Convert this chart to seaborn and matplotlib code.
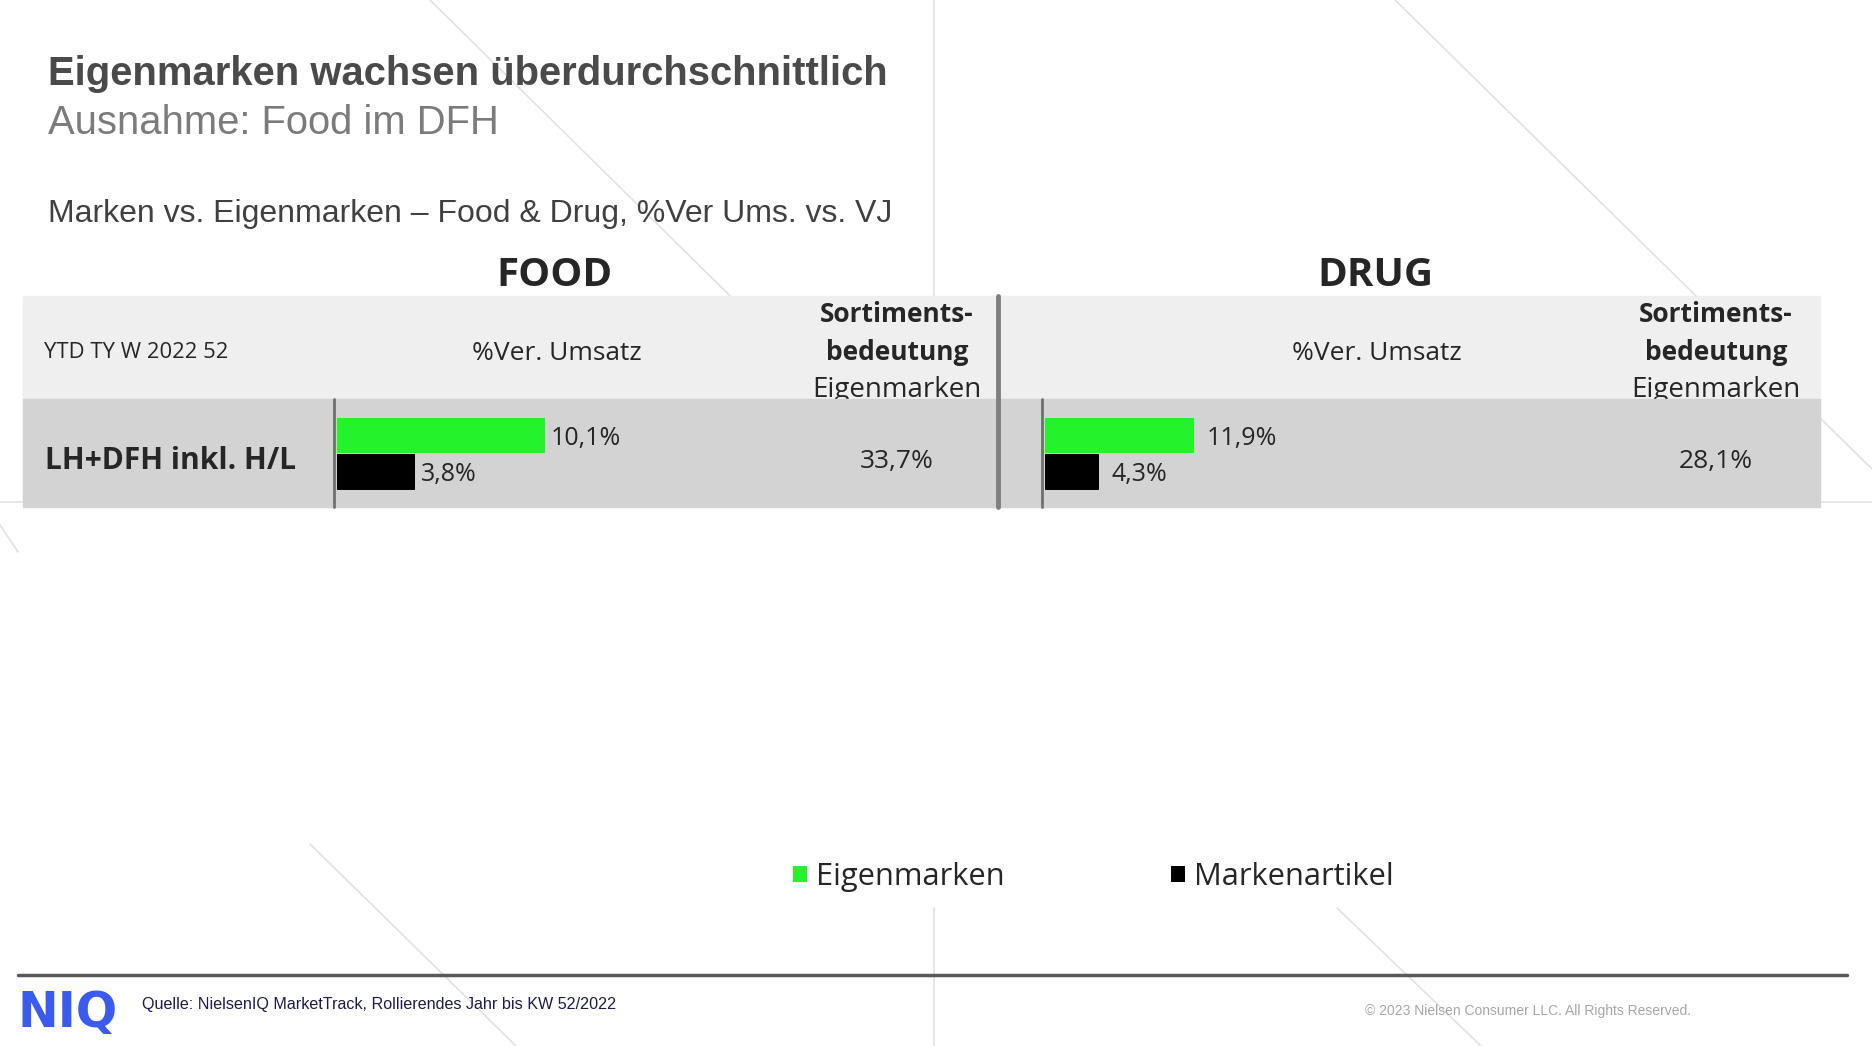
import seaborn as sns
import pandas as pd
import matplotlib.pyplot as plt
from matplotlib.patches import Rectangle
from matplotlib.lines import Line2D

sns.set_style('white')
plt.rcParams['font.family'] = ['Open Sans', 'DejaVu Sans']

# Werte aus der Folie
arten = ['Eigenmarken', 'Markenartikel']
food_umsatz = [10.1, 3.8]
drug_umsatz = [11.9, 4.3]
bereiche = ['FOOD', 'DRUG']
sortiment_em = [33.7, 28.1]
zeile = 'LH+DFH inkl. H/L'
zeitraum = 'YTD TY W 2022 52'
farben = {'Eigenmarken': '#24f22b', 'Markenartikel': '#000000'}

W, H = 1872, 1046
fig = plt.figure(figsize=(W / 100, H / 100), dpi=100)


def fx(x):
    return x / W


def fy(y):
    return 1 - y / H


def txt(x, y, s, **kw):
    return fig.text(fx(x), fy(y), s, **kw)


def rect(x0, y0, x1, y1, **kw):
    fig.add_artist(Rectangle((fx(x0), fy(y1)), (x1 - x0) / W, (y1 - y0) / H,
                             transform=fig.transFigure, **kw))


def line(x0, y0, x1, y1, **kw):
    fig.add_artist(Line2D([fx(x0), fx(x1)], [fy(y0), fy(y1)],
                          transform=fig.transFigure, **kw))


# dekorative Hintergrundlinien der Folie
deko = dict(color='#e2e2e2', lw=1.2, zorder=0.5)
line(430, 0, 790, 355, **deko)
line(934, 0, 934, 300, **deko)
line(934, 908, 934, 1046, **deko)
line(1395, 0, 1872, 469, **deko)
line(0, 502, 1872, 502, **deko)
line(0, 525, 18, 552, **deko)
line(310, 844, 516, 1046, **deko)
line(1337, 908, 1481, 1046, **deko)

# Titel
arial = 'Liberation Sans'
txt(48, 85, 'Eigenmarken wachsen überdurchschnittlich', family=arial,
    fontsize=28.8, fontweight='bold', color='#4a4a4a')
txt(48, 134, 'Ausnahme: Food im DFH', family=arial, fontsize=28.8, color='#7b7b7b')
txt(48, 222, 'Marken vs. Eigenmarken – Food & Drug, %Ver Ums. vs. VJ',
    family=arial, fontsize=23, color='#404040')

# Tabelle
rect(23, 296, 1820, 399, color='#efefef', zorder=1)
rect(23, 399, 1820, 507, color='#d3d3d3', zorder=2.5)
line(998, 296, 998, 507, color='#7f7f7f', lw=3.5, zorder=4)
line(334, 399, 334, 507, color='#707070', lw=2, zorder=4)
line(1042, 399, 1042, 507, color='#707070', lw=2, zorder=4)

txt(44, 353, zeitraum, fontsize=15.8, va='center', zorder=2)
txt(45, 461, zeile, fontsize=21.5, fontweight='bold', va='center', zorder=3)

mitte_umsatz = [557, 1377]
mitte_sort = [897, 1716]
for i, bereich in enumerate(bereiche):
    txt(mitte_umsatz[i] - 2, 276, bereich, fontsize=29, fontweight='bold',
        ha='center', va='center', zorder=3)
    txt(mitte_umsatz[i], 353, '%Ver. Umsatz', fontsize=19, ha='center', va='center', zorder=2)
    txt(mitte_sort[i], 314, 'Sortiments-', fontsize=19, fontweight='bold',
        ha='center', va='center', zorder=2)
    txt(mitte_sort[i], 353, 'bedeutung', fontsize=19, fontweight='bold',
        ha='center', va='center', zorder=2)
    txt(mitte_sort[i], 390, 'Eigenmarken', fontsize=20, ha='center', va='center', zorder=2)
    txt(mitte_sort[i], 461, f'{sortiment_em[i]:.1f}'.replace('.', ',') + '%',
        fontsize=19, ha='center', va='center', zorder=3)


def balken(werte, x0, px_pro_pct, pad, legend):
    ax = fig.add_axes([fx(x0), fy(507), 20 * px_pro_pct / W, 108 / H])
    df = pd.DataFrame({'Art': arten, 'Wert': werte})
    sns.barplot(data=df, x='Wert', y='Art', hue='Art', palette=farben,
                width=0.97, dodge=False, saturation=1, legend=legend,
                linewidth=0, edgecolor='none', ax=ax)
    ax.set_xlim(0, 20)
    ax.set_ylim(1.96, -1.0)
    ax.axis('off')
    ax.set_zorder(5)
    for c in ax.containers:
        for t in ax.bar_label(c, fmt=lambda v: f'{v:.1f}'.replace('.', ',') + '%',
                              padding=pad, fontsize=18):
            t.set_va('center_baseline')
    return ax


ax_food = balken(food_umsatz, 337, 20.6, 4, True)
ax_drug = balken(drug_umsatz, 1045, 12.5, 9, False)

# Legende unten
leg = ax_food.get_legend()
handles = leg.legend_handles
labels = [t.get_text() for t in leg.get_texts()]
leg.remove()
fig.legend(handles, labels, loc='center left', bbox_to_anchor=(fx(793), fy(877)),
           ncol=2, frameon=False, fontsize=22.2, handlelength=0.45, handleheight=0.45,
           handletextpad=0.3, columnspacing=5.4, borderaxespad=0, borderpad=0)

# Fußzeile
line(18, 975, 1847, 975, color='#595959', lw=2.5, zorder=3)
txt(18, 1027, 'NIQ', family='DejaVu Sans', fontsize=35, fontweight='bold', color='#3b5bf0')
txt(142, 1004, 'Quelle: NielsenIQ MarketTrack, Rollierendes Jahr bis KW 52/2022',
    family=arial, fontsize=11.6, color='#1b1b4d', va='center')
txt(1365, 1011, '© 2023 Nielsen Consumer LLC. All Rights Reserved.',
    family=arial, fontsize=10, color='#a6a6a6', va='center')

fig.savefig('out.png', dpi=100)
